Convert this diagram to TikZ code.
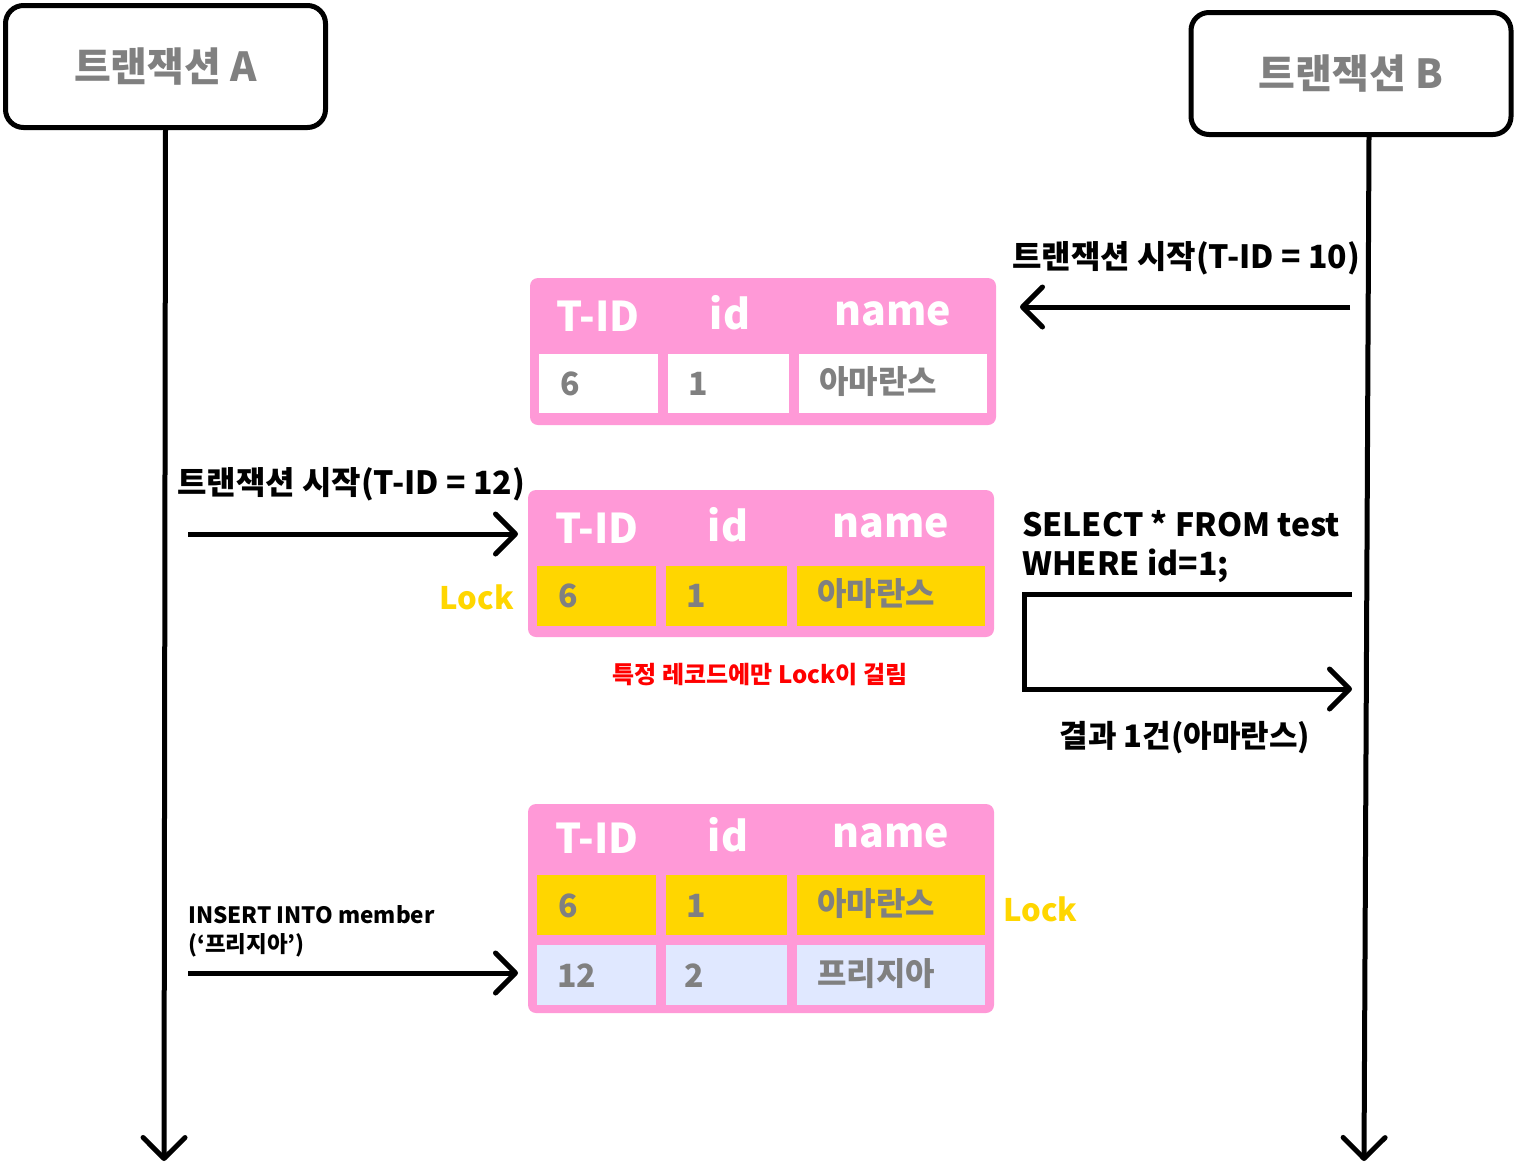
\documentclass[tikz,border=0pt]{standalone}
\usepackage{fontspec}
\setmainfont{Noto Sans CJK KR}
\usetikzlibrary{arrows.meta,positioning}
\definecolor{tabpink}{HTML}{FF99D7}
\definecolor{lockgold}{HTML}{FFD600}
\definecolor{newblue}{HTML}{E0E8FF}
\definecolor{txtgray}{HTML}{808080}
\definecolor{warnred}{HTML}{FF0000}
\tikzset{
  txbox/.style={draw, line width=5pt, rounded corners=18pt, minimum width=320pt, minimum height=122pt,
    text=txtgray, font=\bfseries\fontsize{40}{44}\selectfont},
  life/.style={line width=5pt, -{Straight Barb[length=21pt,width=42pt,round]}},
  msg/.style={line width=5pt, -{Straight Barb[length=20pt,width=40pt,round]}},
  msglbl/.style={inner sep=0pt, font=\bfseries\fontsize{32}{38}\selectfont},
  head/.style={inner sep=0pt, text=white, font=\bfseries\fontsize{41}{46}\selectfont},
  val/.style={inner sep=0pt, anchor=west, text=txtgray, font=\bfseries\fontsize{32}{36}\selectfont},
  lock/.style={inner sep=0pt, text=lockgold, font=\bfseries\fontsize{31}{34}\selectfont}
}
\begin{document}
\begin{tikzpicture}[x=1pt,y=-1pt]
    \useasboundingbox (0,0) rectangle (1516,1165);
    % transactions and life lines
    \node[txbox] (txA) at (165.5,66.5) {트랜잭션 A};
    \node[txbox] (txB) at (1351,73.5) {트랜잭션 B};
    \coordinate (endA) at (164,1161);
    \coordinate (endB) at (1364,1161);
    \draw[life] (txA.south) -- (endA);
    \draw[life] ([xshift=18pt]txB.south) -- (endB);

    % table before A starts
    \fill[tabpink, rounded corners=8pt] (530,278) rectangle (996,425);
    \fill[white] (539,354) rectangle (658,413);
    \fill[white] (668,354) rectangle (789,413);
    \fill[white] (799,354) rectangle (987,413);
    \node[head] (t1tid) at (598,316) {T-ID};
    \node[head] (t1id) at (730,313) {id};
    \node[head] (t1name) at (893,314) {name};
    \node[val] (t1a) at (560,384) {6};
    \node[val] (t1b) at (688,384) {1};
    \node[val] (t1c) at (819,382) {아마란스};

    % B starts
    \coordinate (m1s) at (1350,307);
    \coordinate (m1e) at (1020,307);
    \draw[msg] (m1s) -- (m1e);
    \node[msglbl] (m1lbl) at (1186,258) {트랜잭션 시작(T-ID = 10)};

    % A starts, record lock
    \coordinate (m2s) at (188,534);
    \coordinate (m2e) at (518,534);
    \draw[msg] (m2s) -- (m2e);
    \node[msglbl] (m2lbl) at (351,484) {트랜잭션 시작(T-ID = 12)};
    \fill[tabpink, rounded corners=8pt] (528,490) rectangle (994,637);
    \fill[lockgold] (537,566) rectangle (656,626);
    \fill[lockgold] (666,566) rectangle (787,626);
    \fill[lockgold] (797,566) rectangle (985,626);
    \node[head] (t2tid) at (597,528) {T-ID};
    \node[head] (t2id) at (728,525) {id};
    \node[head] (t2name) at (891,526) {name};
    \node[val] (t2a) at (558,596) {6};
    \node[val] (t2b) at (686,596) {1};
    \node[val] (t2c) at (817,594) {아마란스};
    \node[lock, anchor=east] (lock1) at (514,597) {Lock};
    \node[inner sep=0pt, text=warnred, font=\bfseries\fontsize{24}{28}\selectfont] (note) at (760,675) {특정 레코드에만 Lock이 걸림};

    % B reads
    \node[msglbl, anchor=west, align=left, font=\bfseries\fontsize{32}{39}\selectfont] (sql) at (1022,547) {SELECT * FROM test\\WHERE id=1;};
    \coordinate (q1) at (1352,594);
    \coordinate (q2) at (1024,594);
    \coordinate (q3) at (1352,689);
    \draw[msg] (q1) -- (q2) |- (q3);
    \node[msglbl, font=\bfseries\fontsize{31}{36}\selectfont] (res) at (1185,738) {결과 1건(아마란스)};

    % A inserts
    \fill[tabpink, rounded corners=8pt] (528,804) rectangle (994,1013);
    \fill[lockgold] (537,875) rectangle (656,935);
    \fill[lockgold] (666,875) rectangle (787,935);
    \fill[lockgold] (797,875) rectangle (985,935);
    \fill[newblue] (537,945) rectangle (656,1005);
    \fill[newblue] (666,945) rectangle (787,1005);
    \fill[newblue] (797,945) rectangle (985,1005);
    \node[head] (t3tid) at (597,838) {T-ID};
    \node[head] (t3id) at (728,835) {id};
    \node[head] (t3name) at (891,836) {name};
    \node[val] (t3a) at (558,906) {6};
    \node[val] (t3b) at (686,906) {1};
    \node[val] (t3c) at (817,904) {아마란스};
    \node[val] (t3d) at (557,976) {12};
    \node[val] (t3e) at (684,976) {2};
    \node[val] (t3f) at (817,974) {프리지아};
    \node[lock, anchor=west] (lock2) at (1003,909) {Lock};
    \coordinate (m3s) at (188,973);
    \coordinate (m3e) at (518,973);
    \draw[msg] (m3s) -- (m3e);
    \node[inner sep=0pt, anchor=west, align=left, font=\bfseries\fontsize{22.5}{29}\selectfont] (ins) at (188,931) {INSERT INTO member\\(‘프리지아’)};
  \end{tikzpicture}
\end{document}
